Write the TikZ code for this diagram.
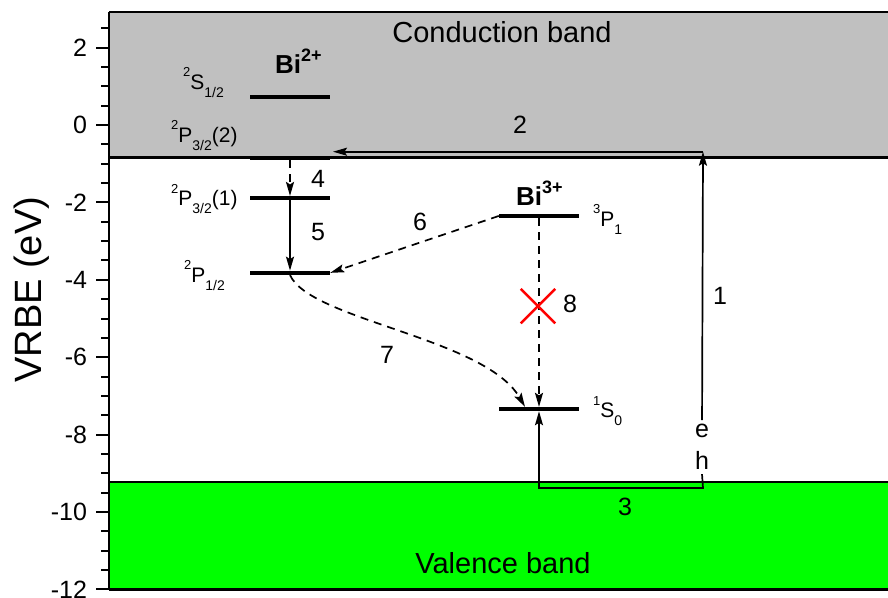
\documentclass[tikz,border=0pt]{standalone}
\usepackage{fontspec}
\setmainfont{Liberation Sans}
\usetikzlibrary{positioning,arrows.meta,calc,shapes.misc}
\definecolor{cbgray}{RGB}{192,192,192}
\definecolor{vbgreen}{RGB}{0,255,0}
\definecolor{xred}{RGB}{255,0,0}
\newcommand{\termsym}[3]{\raisebox{12.5pt}{\fontsize{13}{13}\selectfont #1}#2\raisebox{-8pt}{\fontsize{14}{14}\selectfont #3}}
\newcommand{\ionsym}[2]{#1\raisebox{12pt}{\fontsize{18}{18}\selectfont #2}}

\begin{document}
\begin{tikzpicture}[x=1pt,y=38.7pt,
  level/.style={rectangle,fill=black,minimum width=80pt,minimum height=4pt,inner sep=0pt},
  trans/.style={line width=1.7pt,-{Stealth[length=14pt,width=8pt,inset=2.5pt]}},
  nrad/.style={trans,dash pattern=on 8pt off 6pt},
  num/.style={font=\fontsize{25}{25}\selectfont,inner sep=1pt},
  term/.style={font=\fontsize{21}{21}\selectfont,inner sep=0pt,anchor=base west},
  ion/.style={font=\fontsize{26}{26}\selectfont\bfseries,inner sep=0pt,anchor=base west},
  band/.style={line width=2.4pt},
  ticklab/.style={font=\fontsize{25}{25}\selectfont,inner sep=0pt,anchor=east,xshift=-8pt}]
\useasboundingbox (0,3.2300) rectangle (888,-12.1964);

% bands
\fill[cbgray] (109,-0.84) rectangle (888,2.92);
\fill[vbgreen] (109,-12) rectangle (888,-9.22);
\draw[band] (109,2.92) -- (888,2.92);
\draw[band] (109,-0.84) -- (888,-0.84);
\draw[band] (109,-9.22) -- (888,-9.22);
\draw[band] (109,-12) -- (888,-12);
\draw[band] (109,-12) -- (109,2.92);
\foreach \v in {-11.5,-11,...,2.5}
  \draw[line width=2pt] (109,\v) -- ++(-8,0);
\foreach \v in {-12,-10,...,2}
  \draw[line width=2pt] (109,\v) -- ++(-13,0) node[ticklab] (tk\v) {\v};
\node[rotate=90,font=\fontsize{38}{38}\selectfont] (ylab) at (32,-4.26) {VRBE (eV)};
\node[font=\fontsize{29}{29}\selectfont,anchor=base] (cb) at (502,2.14) {Conduction band};
\node[font=\fontsize{29}{29}\selectfont,anchor=base] (vb) at (503,-11.58) {Valence band};

% levels
\node[level] (s12) at (290,0.72) {};
\node[level] (p32b) at (290,-0.85) {};
\node[level] (p32a) at (290,-1.89) {};
\node[level] (p12) at (290,-3.82) {};
\node[level] (tp1) at (539,-2.35) {};
\node[level] (s0) at (539,-7.34) {};

\node[ion] (bi2) at (275,1.34) {\ionsym{Bi}{2+}};
\node[ion] (bi3) at (516,-2.07) {\ionsym{Bi}{3+}};
\node[term] (ls12) at (183,0.93) {\termsym{2}{S}{1/2}};
\node[term] (lp32b) at (171,-0.44) {\termsym{2}{P}{3/2}(2)};
\node[term] (lp32a) at (171,-2.09) {\termsym{2}{P}{3/2}(1)};
\node[term] (lp12) at (184,-4.06) {\termsym{2}{P}{1/2}};
\node[term] (ltp1) at (593,-2.61) {\termsym{3}{P}{1}};
\node[term] (ls0) at (593,-7.57) {\termsym{1}{S}{0}};

\node[num] (n1) at (720,-4.42) {1};
\node[num] (n2) at (520,0) {2};
\node[num] (n3) at (625,-9.87) {3};
\node[num] (n4) at (318,-1.40) {4};
\node[num] (n5) at (318,-2.76) {5};
\node[num] (n6) at (420,-2.50) {6};
\node[num] (n7) at (387,-5.94) {7};
\node[num] (n8) at (570,-4.63) {8};
\node[num,inner sep=4pt] (e) at (702,-7.91) {e};
\node[num,inner sep=4pt] (h) at (702,-8.68) {h};

\coordinate (cbtop) at (703,-0.69);
\coordinate (cbend) at (333,-0.69);
\coordinate (vbcorner) at (703,-9.38);
\coordinate (s0in) at ($(s0.north)+(-14,0)$);

% transitions
\draw[trans] (e) -- (cbtop);
\draw[trans] (cbtop) -- (cbend);
\draw[trans] (h.south) -- (vbcorner) -| (s0.south);
\draw[nrad] (p32b.south) -- (p32a.north);
\draw[trans] (p32a.south) -- (p12.north);
\draw[nrad] (tp1.west) -- (p12.east);
\draw[nrad] (p12.south) .. controls (310,-5.04) and (485,-5.50) .. (s0in);
\draw[nrad] (tp1.south) -- (s0.north);
\node[draw=xred,cross out,line width=2.4pt,minimum size=32pt] (blk) at (538,-4.68) {};
\end{tikzpicture}
\end{document}
